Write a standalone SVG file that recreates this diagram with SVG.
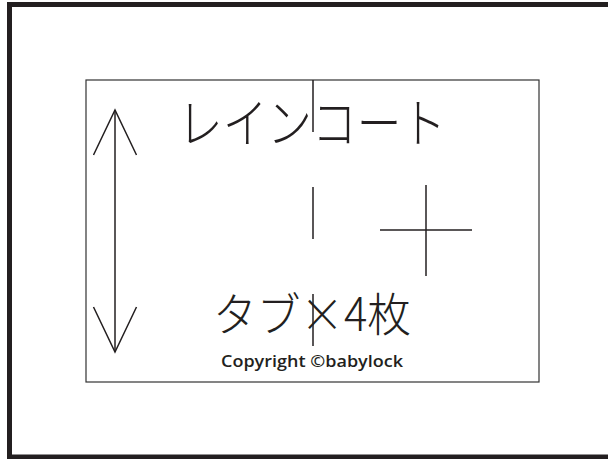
<svg xmlns="http://www.w3.org/2000/svg" width="608" height="459" viewBox="0 0 608 459">
<style>
.jp{font-family:"Noto Sans CJK JP","Noto Sans",sans-serif;font-weight:300;fill:#231f20}
.ln{stroke:#231f20;stroke-width:1.5;fill:none}
</style>
<rect width="608" height="459" fill="#fff"/>
<g id="outer-frame"><rect x="9.5" y="4.5" width="620" height="452.5" fill="none" stroke="#231f20" stroke-width="5"/></g>
<g id="panel"><rect x="86" y="80" width="453" height="302" fill="none" stroke="#333" stroke-width="1.2"/></g>
<g id="connectors">
<line class="ln" x1="115" y1="111" x2="115" y2="351"/>
<polyline class="ln" points="93.5,155 115,110 136.5,155"/>
<polyline class="ln" points="93.5,307 115,352 136.5,307"/>
<line class="ln" x1="313" y1="80" x2="313" y2="347" stroke-dasharray="52 55" stroke-width="1.3"/>
<line class="ln" x1="380" y1="230" x2="472" y2="230"/>
<line class="ln" x1="426" y1="185" x2="426" y2="276"/>
</g>
<g id="title"><text class="jp" x="178" y="143" font-size="53" textLength="268" lengthAdjust="spacingAndGlyphs">レインコート</text></g>
<g id="tab-label"><text class="jp" x="213" y="331" font-size="46" textLength="198" lengthAdjust="spacingAndGlyphs">タブ×4枚</text></g>
<g id="copyright"><text x="221" y="367" font-family="'Open Sans',sans-serif" font-weight="600" font-size="16.5" fill="#231f20" textLength="182" lengthAdjust="spacingAndGlyphs">Copyright ©babylock</text></g>
</svg>
